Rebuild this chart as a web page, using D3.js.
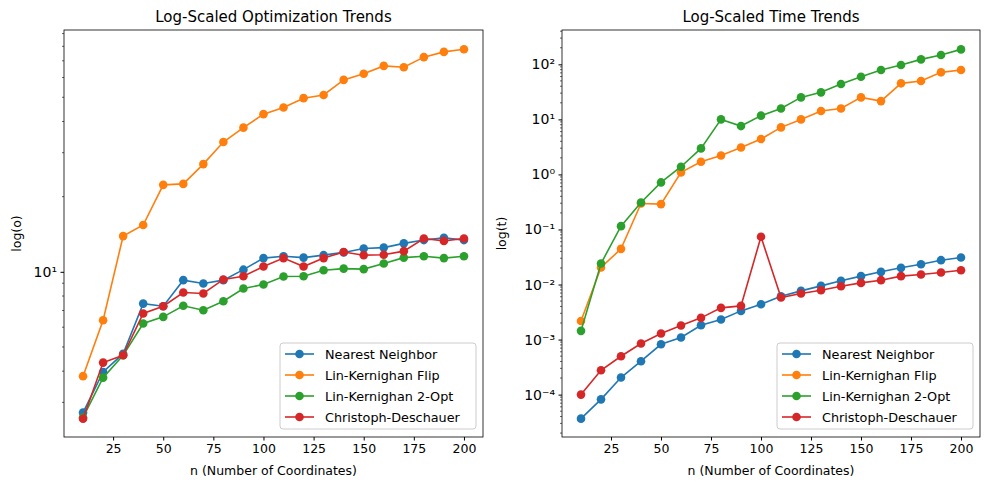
<!DOCTYPE html>
<html><head><meta charset="utf-8">
<script src="https://cdn.jsdelivr.net/npm/d3@7"></script>
<style>body{margin:0;background:#fff}text{font-family:"DejaVu Sans",sans-serif}</style>
</head><body>
<svg id="c" width="989" height="490"></svg>
<script>
const nValues = d3.range(10, 201, 10);
const seriesNames = ["Nearest Neighbor", "Lin-Kernighan Flip", "Lin-Kernighan 2-Opt", "Christoph-Deschauer"];
const colors = ["#1f77b4", "#ff7f0e", "#2ca02c", "#d62728"];

const optNN = [2.73, 3.97, 4.70, 7.46, 7.28, 9.26, 8.98, 9.26, 10.2, 11.35, 11.55, 11.4, 11.66, 11.96, 12.4, 12.5, 13.0, 13.4, 13.7, 13.4];
const optFlip = [3.82, 6.40, 13.9, 15.4, 22.3, 22.5, 27.0, 33.1, 37.8, 42.8, 45.5, 49.6, 51.1, 58.7, 62.1, 66.8, 66.0, 72.4, 76.0, 77.9];
const opt2Opt = [2.61, 3.77, 4.63, 6.21, 6.60, 7.31, 7.02, 7.62, 8.57, 8.90, 9.58, 9.6, 10.15, 10.3, 10.25, 10.8, 11.4, 11.55, 11.35, 11.55];
const optCD = [2.58, 4.33, 4.63, 6.81, 7.28, 8.26, 8.19, 9.32, 9.6, 10.5, 11.35, 10.5, 11.35, 12.0, 11.66, 11.7, 12.1, 13.6, 13.3, 13.6];

const timeNN = [3.66e-5, 8.2e-5, 2.04e-4, 4.04e-4, 8.2e-4, 1.09e-3, 1.82e-3, 2.31e-3, 3.32e-3, 4.39e-3, 6.13e-3, 7.67e-3, 9.46e-3, 0.0117, 0.0142, 0.0170, 0.0201, 0.0234, 0.0277, 0.031];
const timeFlip = [2.18e-3, 0.0204, 0.0445, 0.297, 0.289, 1.09, 1.70, 2.21, 3.09, 4.39, 7.16, 10, 14.2, 15.8, 25.1, 21.5, 45.2, 49.8, 71.6, 78.9];
const time2Opt = [1.44e-3, 0.0241, 0.115, 0.31, 0.716, 1.38, 2.97, 10, 7.56, 11.7, 15.8, 25.1, 31, 43.9, 59.7, 78.9, 97.3, 123, 148, 187];
const timeCD = [1e-4, 2.77e-4, 4.97e-4, 8.46e-4, 1.29e-3, 1.80e-3, 2.48e-3, 3.77e-3, 4.09e-3, 0.0736, 5.8e-3, 6.86e-3, 7.89e-3, 9.33e-3, 0.0107, 0.0120, 0.0142, 0.0152, 0.0165, 0.0182];

const xTicks = [25, 50, 75, 100, 125, 150, 175, 200];
const sup = {"-": "\u207b", "0": "\u2070", "1": "\u00b9", "2": "\u00b2", "3": "\u00b3", "4": "\u2074"};
const powLabel = e => "10" + String(e).split("").map(c => sup[c]).join("");

const svg = d3.select("#c");

function panel(cfg) {
  const {x0, x1, y0, y1, yDomain, data, title, ylabel, majors} = cfg;
  const g = svg.append("g");
  const x = d3.scaleLinear().domain([0.5, 209.5]).range([x0, x1]);
  const y = d3.scaleLog().domain(yDomain).range([y1, y0]);

  // minor ticks
  const minors = [];
  for (let e = Math.floor(Math.log10(yDomain[0])); e <= Math.ceil(Math.log10(yDomain[1])); e++)
    for (let m = 2; m <= 9; m++) {
      const v = m * Math.pow(10, e);
      if (v >= yDomain[0] && v <= yDomain[1]) minors.push(v);
    }
  g.selectAll(".mn").data(minors).join("line")
    .attr("x1", x0).attr("x2", x0 - 2).attr("y1", d => y(d)).attr("y2", d => y(d))
    .attr("stroke", "#000").attr("stroke-width", 0.6);

  const yAxis = g.append("g").attr("transform", `translate(${x0},0)`)
    .call(d3.axisLeft(y).tickValues(majors.map(e => Math.pow(10, e))).tickSize(3.5).tickPadding(3.5)
      .tickFormat(d => powLabel(Math.round(Math.log10(d)))));
  yAxis.select(".domain").remove();
  yAxis.selectAll("text").attr("font-size", 14).attr("fill", "#000");

  const xAxis = g.append("g").attr("transform", `translate(0,${y1})`)
    .call(d3.axisBottom(x).tickValues(xTicks).tickSize(3.5).tickPadding(3.5));
  xAxis.select(".domain").remove();
  xAxis.selectAll("text").attr("font-size", 12.5).attr("fill", "#000");

  const line = d3.line().x((d, i) => x(nValues[i])).y(d => y(d));
  data.forEach((s, k) => {
    g.append("path").attr("d", line(s)).attr("fill", "none").attr("stroke", colors[k]).attr("stroke-width", 1.6);
    g.selectAll(".p" + k).data(s).join("circle")
      .attr("cx", (d, i) => x(nValues[i])).attr("cy", d => y(d)).attr("r", 4.3).attr("fill", colors[k]);
  });

  g.append("rect").attr("x", x0).attr("y", y0).attr("width", x1 - x0).attr("height", y1 - y0)
    .attr("fill", "none").attr("stroke", "#000").attr("stroke-width", 0.8);

  g.append("text").attr("x", (x0 + x1) / 2).attr("y", y0 - 8).attr("text-anchor", "middle")
    .attr("font-size", 15).text(title);
  g.append("text").attr("x", (x0 + x1) / 2).attr("y", y1 + 38).attr("text-anchor", "middle")
    .attr("font-size", 12.5).text("n (Number of Coordinates)");
  g.append("text").attr("transform", `translate(${cfg.ylx},${(y0 + y1) / 2}) rotate(-90)`)
    .attr("text-anchor", "middle").attr("font-size", 12.5).text(ylabel);

  // legend
  const lw = 196, lh = 86, lx = x1 - lw - 7, ly = y1 - lh - 8;
  const lg = g.append("g").attr("transform", `translate(${lx},${ly})`);
  lg.append("rect").attr("width", lw).attr("height", lh).attr("rx", 3)
    .attr("fill", "#fff").attr("fill-opacity", 0.8).attr("stroke", "#ccc");
  seriesNames.forEach((nm, k) => {
    const yy = 11 + k * 21;
    lg.append("line").attr("x1", 5).attr("x2", 34).attr("y1", yy).attr("y2", yy).attr("stroke", colors[k]).attr("stroke-width", 1.6);
    lg.append("circle").attr("cx", 19.5).attr("cy", yy).attr("r", 4.3).attr("fill", colors[k]);
    lg.append("text").attr("x", 45).attr("y", yy + 4.5).attr("font-size", 12.8).text(nm);
  });
}

panel({x0: 64, x1: 483, y0: 30, y1: 437, yDomain: [2.18, 93], majors: [1],
  data: [optNN, optFlip, opt2Opt, optCD], title: "Log-Scaled Optimization Trends", ylabel: "log(o)", ylx: 21});
panel({x0: 562, x1: 980, y0: 30, y1: 437, yDomain: [Math.pow(10, -4.77), Math.pow(10, 2.624)], majors: [-4, -3, -2, -1, 0, 1, 2],
  data: [timeNN, timeFlip, time2Opt, timeCD], title: "Log-Scaled Time Trends", ylabel: "log(t)", ylx: 506});
</script>
</body></html>
